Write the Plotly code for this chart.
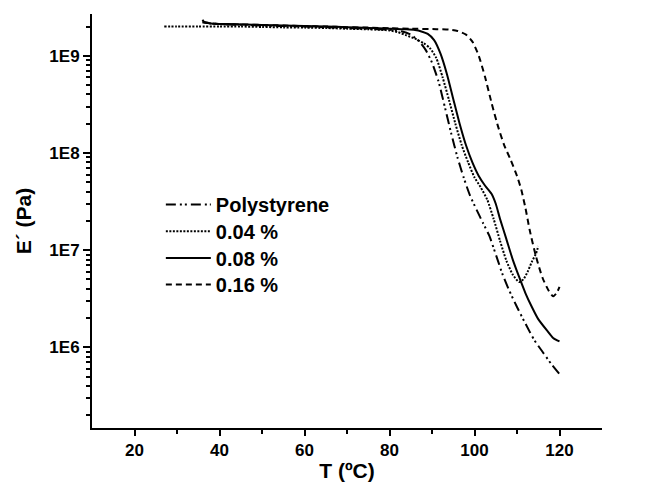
import plotly.graph_objects as go

# ---- data ----
ps_T = [36, 36.5, 38, 42, 46, 50, 55, 60, 65, 70, 75, 80, 83, 85, 87, 88.5, 90, 91.5, 93, 94.5, 96, 97.5, 99, 100.5, 102, 103.5, 104.5, 105.5, 106.5, 108, 110, 112, 114, 116, 118, 120]
ps_E = [2.35e9, 2.2e9, 2.15e9, 2.1e9, 2.08e9, 2.05e9, 2.02e9, 2.0e9, 1.97e9, 1.93e9, 1.9e9, 1.85e9, 1.78e9, 1.65e9, 1.4e9, 1.15e9, 8.5e8, 5.5e8, 3e8, 1.6e8, 9e7, 5.5e7, 3.6e7, 2.6e7, 1.9e7, 1.4e7, 1.05e7, 7.8e6, 5.8e6, 4e6, 2.6e6, 1.75e6, 1.2e6, 0.9e6, 0.68e6, 0.53e6]

d04_T = [27, 30, 35, 40, 45, 50, 55, 60, 65, 70, 75, 78, 80, 82, 84, 86, 88, 89.5, 91, 92.5, 94, 95.5, 97, 98.5, 100, 101.5, 103, 104.5, 106, 107.5, 109, 110.5, 111.5, 112.5, 113.5, 114.5, 115]
d04_E = [2.0e9, 2.0e9, 2.0e9, 2.0e9, 2.0e9, 1.98e9, 1.96e9, 1.95e9, 1.93e9, 1.9e9, 1.87e9, 1.85e9, 1.82e9, 1.75e9, 1.62e9, 1.5e9, 1.35e9, 1.2e9, 9.5e8, 6e8, 3.5e8, 2e8, 1.2e8, 8e7, 5.6e7, 4.4e7, 3.3e7, 2.1e7, 1.25e7, 7.8e6, 5.6e6, 4.7e6, 5.0e6, 6.0e6, 7.6e6, 9.3e6, 1.1e7]

d08_T = [36, 38, 42, 46, 50, 55, 60, 65, 70, 75, 80, 84, 86, 87.5, 89, 90.5, 92, 93.5, 95, 96.5, 98, 99.5, 101, 102.5, 104, 105, 106, 107.5, 109, 110.5, 112, 113.5, 115, 117, 118.5, 120]
d08_E = [2.25e9, 2.15e9, 2.12e9, 2.1e9, 2.08e9, 2.05e9, 2.02e9, 2.0e9, 1.97e9, 1.93e9, 1.9e9, 1.87e9, 1.84e9, 1.78e9, 1.68e9, 1.45e9, 1.05e9, 6.5e8, 3.6e8, 2e8, 1.2e8, 8e7, 5.8e7, 4.6e7, 3.8e7, 3.0e7, 2.1e7, 1.3e7, 8e6, 5.3e6, 3.6e6, 2.6e6, 1.95e6, 1.5e6, 1.25e6, 1.15e6]

d16_T = [36, 40, 45, 50, 55, 60, 65, 70, 75, 80, 85, 91, 94, 96, 98, 99.5, 101, 102.5, 104, 105.5, 107, 108.5, 110, 111, 112, 113, 114.5, 116, 117.5, 118.5, 119.3, 120]
d16_E = [2.2e9, 2.12e9, 2.1e9, 2.08e9, 2.05e9, 2.02e9, 2.0e9, 1.97e9, 1.95e9, 1.92e9, 1.9e9, 1.88e9, 1.86e9, 1.8e9, 1.65e9, 1.4e9, 1.0e9, 6e8, 3.3e8, 1.9e8, 1.2e8, 8.5e7, 5.8e7, 4.2e7, 2.7e7, 1.6e7, 8.5e6, 5.2e6, 3.8e6, 3.35e6, 3.6e6, 4.2e6]

series_names = ["Polystyrene", "0.04 %", "0.08 %", "0.16 %"]
y_tickvals = [1e6, 1e7, 1e8, 1e9]
y_ticktext = ["1E6", "1E7", "1E8", "1E9"]
x_tickvals = [20, 40, 60, 80, 100, 120]
x_minor = [30, 50, 70, 90, 110]

dashes = ["10px,4px,2px,3px,2px,4px", "2px,1.5px", "solid", "6px,4px"]
data = [(ps_T, ps_E), (d04_T, d04_E), (d08_T, d08_E), (d16_T, d16_E)]
legend_ids = ["legend", "legend2", "legend3", "legend4"]

fig = go.Figure()
for (t, e), name, dash, lg in zip(data, series_names, dashes, legend_ids):
    fig.add_trace(go.Scatter(x=t, y=e, mode="lines", name=name, legend=lg,
                             line=dict(color="black", width=2, dash=dash, shape="spline", smoothing=0.6)))

fam = "Arial, Liberation Sans, sans-serif"
font = dict(family=fam, color="black", size=17, weight="bold")
legend_font = dict(family=fam, size=20, color="black", weight="bold")

legend_top = 0.587
legend_step = 0.0645
legend_layouts = {}
for k, lg in enumerate(legend_ids):
    legend_layouts[lg] = dict(x=0.135, y=legend_top - k * legend_step, xanchor="left", yanchor="top",
                              bgcolor="rgba(0,0,0,0)", font=legend_font, itemwidth=45)

fig.update_layout(
    width=651, height=490,
    margin=dict(l=84, r=57, t=6, b=70, autoexpand=False),
    paper_bgcolor="white", plot_bgcolor="white",
    font=font,
    showlegend=True,
    xaxis=dict(range=[10, 130], tickvals=x_tickvals, showline=True, linecolor="black", linewidth=2,
               ticks="outside", ticklen=6, tickwidth=2, tickcolor="black", showgrid=False, zeroline=False,
               automargin=False,
               minor=dict(tickvals=x_minor, ticks="outside", ticklen=4, tickwidth=2, tickcolor="black"),
               title=dict(text="T (ºC)", font=dict(size=21), standoff=4),
               tickfont=dict(size=17)),
    yaxis=dict(type="log", range=[5.17, 9.43], tickvals=y_tickvals, ticktext=y_ticktext,
               showline=True, linecolor="black", linewidth=2, automargin=False,
               ticks="outside", ticklen=7, tickwidth=2, tickcolor="black", showgrid=False, zeroline=False,
               minor=dict(dtick="D1", ticks="outside", ticklen=4, tickwidth=2, tickcolor="black", showgrid=False),
               title=dict(text="E´ (Pa)", font=dict(size=21), standoff=12),
               tickfont=dict(size=17)),
    **legend_layouts,
)

fig.write_html("out.html")
